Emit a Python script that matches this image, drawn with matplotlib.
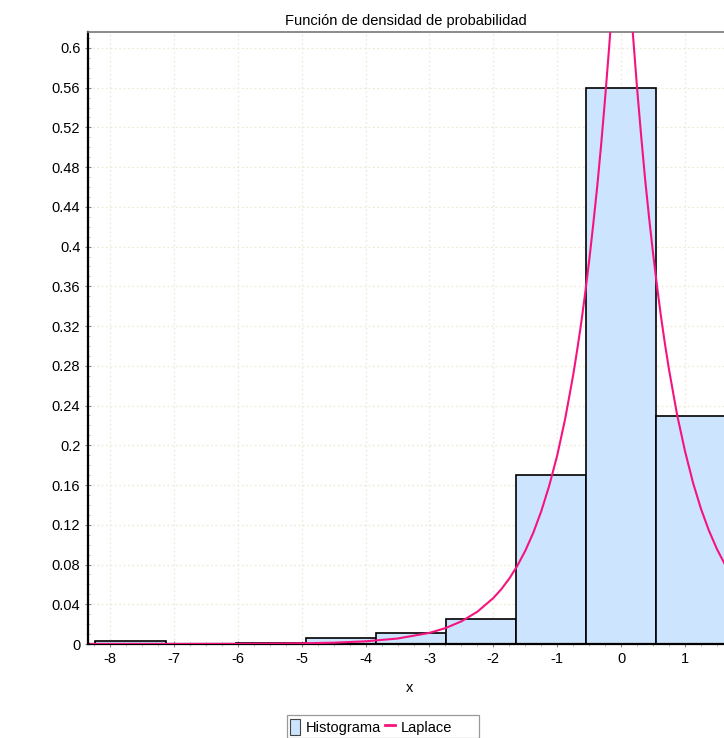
import numpy as np
import matplotlib.pyplot as plt
from matplotlib.ticker import MultipleLocator
from matplotlib.patches import Patch, Rectangle
from matplotlib.lines import Line2D

plt.rcParams['font.family'] = ['Liberation Sans', 'DejaVu Sans']
plt.rcParams['axes.unicode_minus'] = False

# histograma (bordes de clase y densidades)
bordes = [-8.23, -7.13, -6.03, -4.93, -3.84, -2.74, -1.64, -0.55, 0.55, 1.65]
densidad = [0.0035, 0.0, 0.0012, 0.0057, 0.0107, 0.025, 0.17, 0.56, 0.229]

# curva de Laplace ajustada
x_lap = [-8.3, -7.0, -6.0, -5.0, -4.5, -4.0, -3.5, -3.0, -2.75, -2.5, -2.25,
         -2.0, -1.875, -1.75, -1.625, -1.5, -1.375, -1.25, -1.125, -1.0,
         -0.875, -0.75, -0.6875, -0.625, -0.5625, -0.5, -0.4375, -0.375,
         -0.3125, -0.25, -0.1875, -0.125, -0.0625, 0.006, 0.0625, 0.125,
         0.1875, 0.25, 0.3125, 0.375, 0.4375, 0.5, 0.5625, 0.625, 0.6875,
         0.75, 0.875, 1.0, 1.125, 1.25, 1.375, 1.5, 1.625, 1.75]
y_lap = [0.0, 0.00004, 0.00016, 0.0007, 0.0013, 0.0027, 0.0055, 0.0112, 0.016,
         0.0228, 0.0325, 0.0463, 0.0552, 0.0659, 0.0787, 0.0939, 0.112, 0.1337,
         0.1595, 0.190, 0.227, 0.271, 0.2962, 0.323, 0.3535, 0.386, 0.422,
         0.460, 0.503, 0.550, 0.601, 0.656, 0.717, 0.790, 0.729, 0.668, 0.611,
         0.559, 0.512, 0.468, 0.429, 0.393, 0.3596, 0.329, 0.3013, 0.276,
         0.231, 0.194, 0.1623, 0.136, 0.114, 0.0955, 0.080, 0.067]

anchos = np.diff(bordes)
azul = '#cce4fd'
rosa = '#f5147f'

fig = plt.figure(figsize=(7.24, 7.38), dpi=100)
ax = fig.add_axes([88 / 724, 94 / 738, 1 - 88 / 724, 612 / 738])

ax.bar(bordes[:-1], densidad, width=anchos, align='edge',
       color=azul, edgecolor='black', linewidth=1.2, zorder=2)
ax.plot(x_lap, y_lap, color=rosa, linewidth=1.5, zorder=3)

ax.set_xlim(-8.345, 1.61)
ax.set_ylim(0, 0.616)

ax.xaxis.set_major_locator(MultipleLocator(1))
ax.xaxis.set_minor_locator(MultipleLocator(0.25))
ax.yaxis.set_major_locator(MultipleLocator(0.04))
ax.yaxis.set_minor_locator(MultipleLocator(0.01))
ax.set_yticklabels([f'{v:g}' for v in ax.get_yticks()])

ax.tick_params(which='major', direction='inout', length=5, width=0.8,
               color='#888888', labelsize=10.5, pad=3)
ax.tick_params(which='minor', direction='inout', length=3, width=0.6,
               color='#aaaaaa')

ax.grid(True, which='major', color='#ecebd8', linestyle=(0, (1.5, 2)),
        linewidth=0.9, zorder=0)

for lado in ['left', 'bottom']:
    ax.spines[lado].set_color('black')
    ax.spines[lado].set_linewidth(1.6)
ax.spines['top'].set_color('#777777')
ax.spines['top'].set_linewidth(1.2)
ax.spines['right'].set_visible(False)

ax.set_title('Función de densidad de probabilidad', fontsize=10.5, pad=5)
ax.set_xlabel('x', fontsize=10.5)
ax.xaxis.set_label_coords((410 - 88) / 636, -0.06)

# leyenda: marco dibujado aparte, más ancho que el contenido
fig.patches.append(Rectangle((287 / 724, 0.5 / 738), 192 / 724, 22.5 / 738,
                             transform=fig.transFigure, facecolor='white',
                             edgecolor='#999999', linewidth=0.9))
leyenda = [Patch(facecolor=azul, edgecolor='#444444', linewidth=0.8),
           Line2D([0], [0], color=rosa, linewidth=2)]
fig.legend(leyenda, ['Histograma', 'Laplace'], loc='center',
           bbox_to_anchor=(371 / 724, 1 - 727 / 738), ncol=2, fontsize=10.5,
           frameon=False, handlelength=0.7, handletextpad=0.35,
           columnspacing=0.3, borderpad=0.25, handleheight=1.3)

fig.savefig('out.png', dpi=100)
